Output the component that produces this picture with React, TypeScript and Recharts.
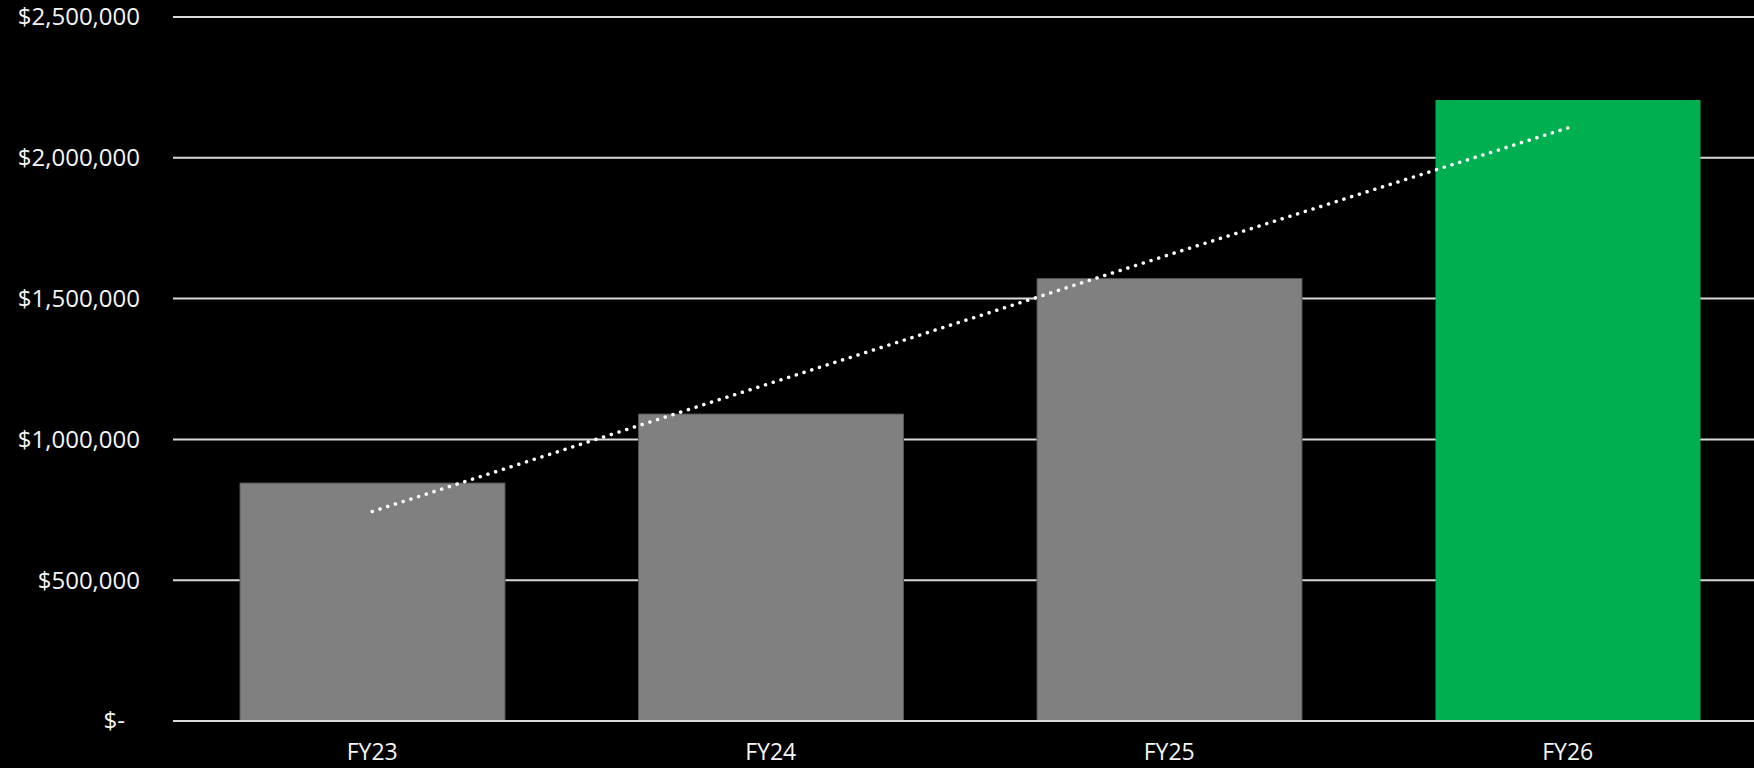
import { ComposedChart, Bar, Line, Cell, XAxis, YAxis, CartesianGrid } from 'recharts';

const years = ['FY23', 'FY24', 'FY25', 'FY26'];
const revenue = [845000, 1090000, 1571000, 2205000];
const trend = [744000, 1200000, 1656000, 2106000];
const barColors = ['#808080', '#808080', '#808080', '#00AF50'];
const yTicks = [0, 500000, 1000000, 1500000, 2000000, 2500000];

const data = years.map((year, i) => ({ year, revenue: revenue[i], trend: trend[i] }));

const FONT = '"Open Sans", sans-serif';

function formatMoney(v: number) {
  if (v === 0) return '$-';
  return '$' + v.toLocaleString('en-US');
}

const YTick = (props: any) => {
  const { x, y, payload } = props;
  const zero = payload.value === 0;
  return (
    <text x={zero ? x - 15 : x} y={y} dy="0.35em" textAnchor="end" fill="#f5f5f5" fontSize={24} fontFamily={FONT}>
      {formatMoney(payload.value)}
    </text>
  );
};

const XTick = (props: any) => {
  const { x, y, payload } = props;
  return (
    <text x={x} y={y + 39} textAnchor="middle" fill="#f5f5f5" fontSize={23} fontFamily={FONT}>
      {payload.value}
    </text>
  );
};

export default function App() {
  return (
    <div style={{ position: 'absolute', left: 0, top: 0, width: 1754, height: 768, overflow: 'hidden', background: '#000' }}>
      <ComposedChart width={1767} height={768} data={data} margin={{ top: 17, right: 0, left: 0, bottom: 0 }}>
        <CartesianGrid vertical={false} stroke="#d9d9d9" strokeWidth={2} />
        <XAxis
          dataKey="year"
          height={47}
          tickSize={0}
          tickMargin={0}
          axisLine={{ stroke: '#d9d9d9', strokeWidth: 2 }}
          tickLine={false}
          tick={<XTick />}
          interval={0}
        />
        <YAxis
          width={173}
          domain={[0, 2500000]}
          ticks={yTicks}
          tickSize={0}
          tickMargin={33}
          axisLine={false}
          tickLine={false}
          tick={<YTick />}
          interval={0}
        />
        <Bar dataKey="revenue" barSize={265} isAnimationActive={false}>
          {data.map((d, i) => (
            <Cell key={d.year} fill={barColors[i]} stroke={i < 3 ? '#555555' : 'none'} strokeWidth={1} />
          ))}
        </Bar>
        <Line
          dataKey="trend"
          type="linear"
          stroke="#ffffff"
          strokeWidth={3.5}
          strokeDasharray="0.1 8"
          strokeLinecap="round"
          dot={false}
          activeDot={false}
          isAnimationActive={false}
        />
      </ComposedChart>
    </div>
  );
}
